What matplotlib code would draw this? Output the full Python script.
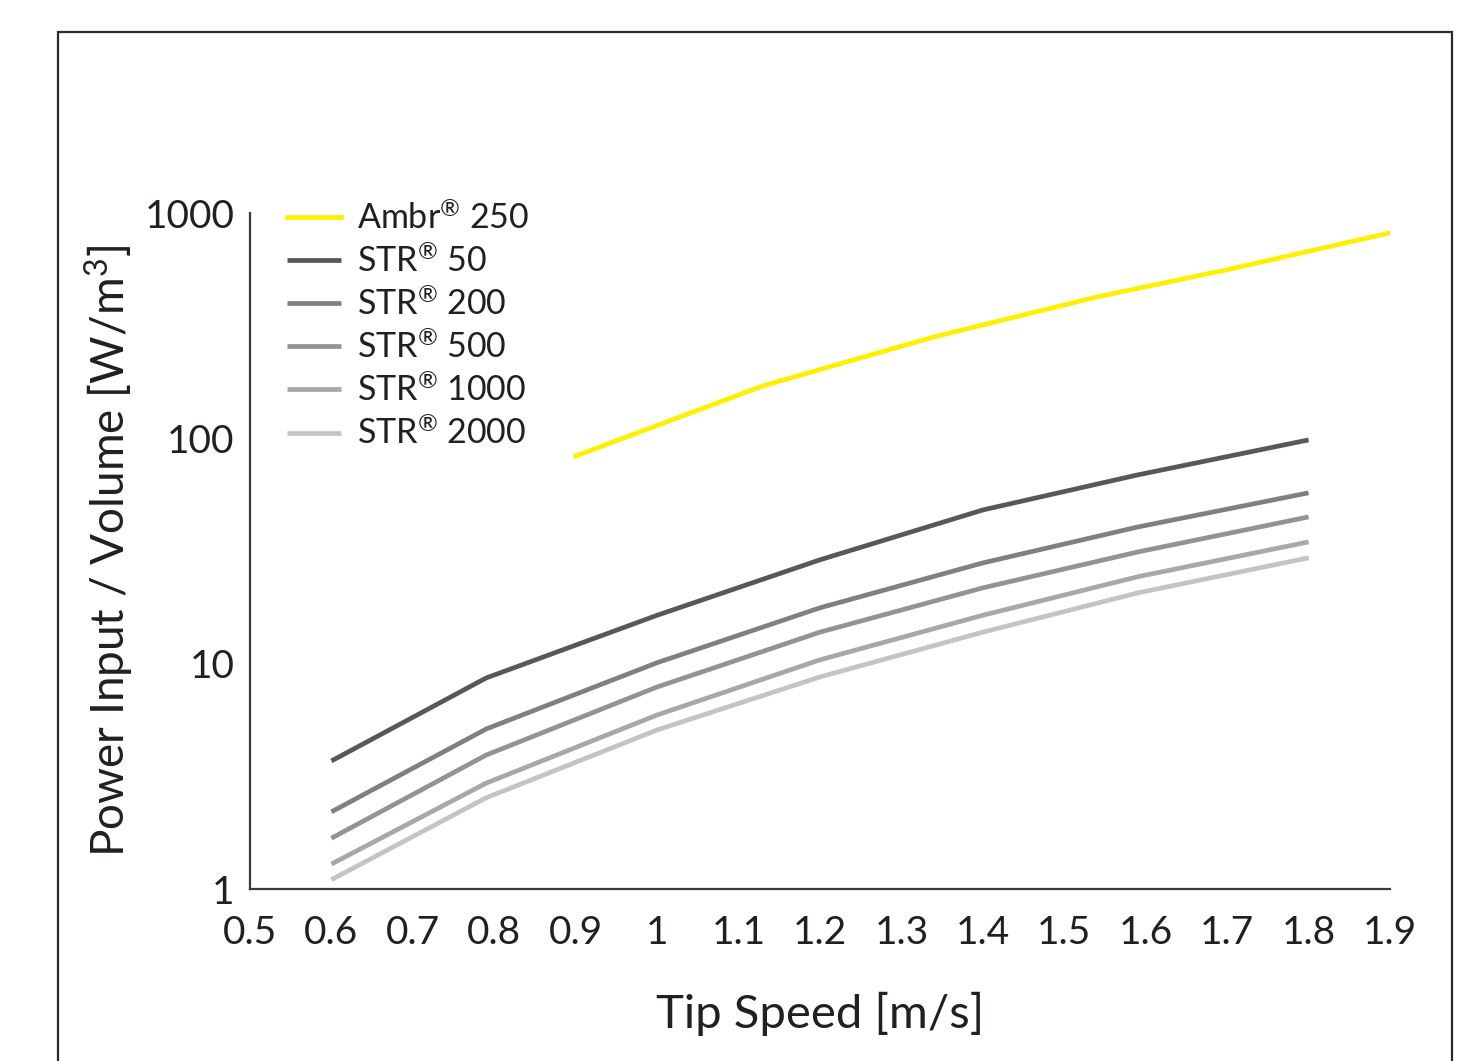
"""
Power input per volume vs tip speed for Ambr 250 and STR bioreactors
"""

import matplotlib
matplotlib.use('Agg')
import matplotlib.pyplot as plt
from matplotlib.patches import Rectangle

plt.rcParams['font.family'] = ['Lato', 'DejaVu Sans']
plt.rcParams['mathtext.fontset'] = 'custom'
plt.rcParams['mathtext.rm'] = 'Lato'
plt.rcParams['mathtext.it'] = 'Lato'

# tip speed [m/s]
ambr_speed = [0.90, 1.13, 1.34, 1.54, 1.70, 1.90]
str_speed = [0.60, 0.79, 1.00, 1.20, 1.40, 1.59, 1.80]

# power input / volume [W/m3]
ambr_250 = [83.5, 171, 282, 424, 560, 816]
str_50 = [3.70, 8.64, 16.4, 28.9, 48.1, 68.8, 98.4]
str_200 = [2.20, 5.13, 10.1, 17.7, 28.0, 40.4, 57.3]
str_500 = [1.68, 3.93, 7.88, 13.8, 21.7, 31.3, 44.8]
str_1000 = [1.29, 2.95, 5.92, 10.4, 16.4, 24.3, 34.7]
str_2000 = [1.10, 2.54, 5.08, 8.73, 13.8, 20.6, 29.5]

series_labels = [r'Ambr$^{\circledR}$ 250', r'STR$^{\circledR}$ 50', r'STR$^{\circledR}$ 200',
                 r'STR$^{\circledR}$ 500', r'STR$^{\circledR}$ 1000', r'STR$^{\circledR}$ 2000']
series_colors = ['#fff000', '#58585a', '#808082', '#939395', '#a8a8aa', '#c4c4c6']

x_ticks = [0.5, 0.6, 0.7, 0.8, 0.9, 1.0, 1.1, 1.2, 1.3, 1.4, 1.5, 1.6, 1.7, 1.8, 1.9]
x_ticklabels = ['0.5', '0.6', '0.7', '0.8', '0.9', '1', '1.1', '1.2', '1.3', '1.4',
                '1.5', '1.6', '1.7', '1.8', '1.9']
y_ticks = [1, 10, 100, 1000]
y_ticklabels = ['1', '10', '100', '1000']

fig = plt.figure(figsize=(14.75, 10.61), dpi=100)
ax = fig.add_axes([250 / 1475, 1 - 889 / 1061, 1140 / 1475, 676 / 1061])

ax.plot(ambr_speed, ambr_250, color=series_colors[0], lw=3.4, label=series_labels[0])
str_data = [str_50, str_200, str_500, str_1000, str_2000]
for i, values in enumerate(str_data):
    ax.plot(str_speed, values, color=series_colors[i + 1], lw=3.4,
            label=series_labels[i + 1], solid_capstyle='butt')

ax.set_yscale('log')
ax.set_xlim(0.5, 1.9)
ax.set_ylim(1, 1000)
ax.set_xticks(x_ticks)
ax.set_xticklabels(x_ticklabels)
ax.set_yticks(y_ticks)
ax.set_yticklabels(y_ticklabels)
ax.minorticks_off()
ax.tick_params(axis='both', length=0, labelsize=28, colors='#231f20')
ax.tick_params(axis='x', pad=19)
ax.tick_params(axis='y', pad=11)

for side in ['top', 'right']:
    ax.spines[side].set_visible(False)
for side in ['left', 'bottom']:
    ax.spines[side].set_color('#3a3a3a')
    ax.spines[side].set_linewidth(1.6)

ax.set_xlabel('Tip Speed [m/s]', fontsize=34, color='#231f20', labelpad=29)
ax.set_ylabel('Power Input / Volume [W/m$^3$]', fontsize=33, color='#231f20', labelpad=6)

ax.legend(loc='upper left', bbox_to_anchor=(287 / 1475, 1 - 200 / 1061),
          bbox_transform=fig.transFigure, frameon=False, fontsize=24.5,
          handlelength=1.6, handletextpad=0.45, labelspacing=0.245,
          borderpad=0, borderaxespad=0, labelcolor='#231f20')

# outer frame
fig.patches.append(Rectangle((58 / 1475, -0.05), 1394 / 1475, 1.05 - 32 / 1061,
                             transform=fig.transFigure, fill=False,
                             edgecolor='#2a2a2a', lw=1.6, clip_on=False))

plt.savefig('out.png', dpi=100)
